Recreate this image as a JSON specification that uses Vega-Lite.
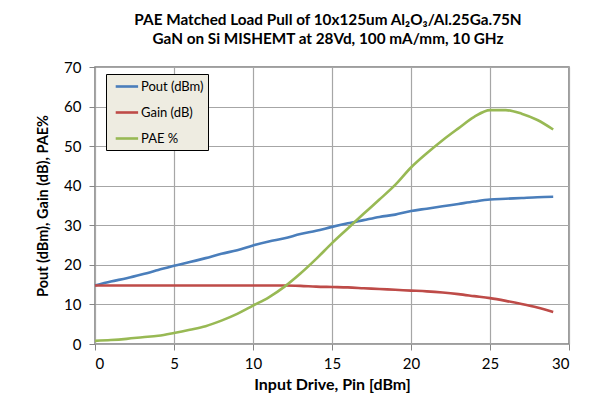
{
  "$schema": "https://vega.github.io/schema/vega-lite/v6.json",
  "width": 474,
  "height": 277,
  "autosize": "none",
  "padding": {"left": 95, "top": 67, "right": 21, "bottom": 54},
  "background": "white",
  "title": {
    "text": ["PAE Matched Load Pull of 10x125um Al₂O₃/Al.25Ga.75N", "GaN on Si MISHEMT at 28Vd, 100 mA/mm, 10 GHz"],
    "font": "Lato",
    "fontSize": 15.3,
    "fontWeight": "bold",
    "color": "#000000",
    "anchor": "middle",
    "dx": -4,
    "offset": 13,
    "lineHeight": 19
  },
  "config": {
    "font": "Lato",
    "view": {"stroke": "#7f7f7f", "strokeWidth": 1.5},
    "axis": {
      "gridColor": "#a6a6a6",
      "gridWidth": 1.2,
      "domain": false,
      "tickColor": "#868686",
      "tickSize": 6,
      "labelFont": "Lato",
      "labelFontSize": 15,
      "labelColor": "#000000",
      "titleFont": "Lato",
      "titleFontWeight": "bold",
      "titleColor": "#000000"
    }
  },
  "data": {
    "values": [
      {"pin": 0, "Pout (dBm)": 14.8, "Gain (dB)": 14.8, "PAE %": 0.8},
      {"pin": 1, "Pout (dBm)": 15.8, "Gain (dB)": 14.8, "PAE %": 1.0},
      {"pin": 2, "Pout (dBm)": 16.6, "Gain (dB)": 14.8, "PAE %": 1.3},
      {"pin": 3, "Pout (dBm)": 17.6, "Gain (dB)": 14.8, "PAE %": 1.7},
      {"pin": 4, "Pout (dBm)": 18.7, "Gain (dB)": 14.8, "PAE %": 2.1},
      {"pin": 5, "Pout (dBm)": 19.8, "Gain (dB)": 14.8, "PAE %": 2.8},
      {"pin": 6, "Pout (dBm)": 20.7, "Gain (dB)": 14.8, "PAE %": 3.6},
      {"pin": 7, "Pout (dBm)": 21.7, "Gain (dB)": 14.8, "PAE %": 4.5},
      {"pin": 8, "Pout (dBm)": 22.8, "Gain (dB)": 14.8, "PAE %": 5.9},
      {"pin": 9, "Pout (dBm)": 23.7, "Gain (dB)": 14.8, "PAE %": 7.6},
      {"pin": 10, "Pout (dBm)": 24.9, "Gain (dB)": 14.8, "PAE %": 9.7},
      {"pin": 11, "Pout (dBm)": 25.9, "Gain (dB)": 14.8, "PAE %": 11.8},
      {"pin": 12, "Pout (dBm)": 26.7, "Gain (dB)": 14.8, "PAE %": 14.5},
      {"pin": 13, "Pout (dBm)": 27.8, "Gain (dB)": 14.7, "PAE %": 17.8},
      {"pin": 14, "Pout (dBm)": 28.6, "Gain (dB)": 14.5, "PAE %": 21.5},
      {"pin": 15, "Pout (dBm)": 29.6, "Gain (dB)": 14.4, "PAE %": 25.5},
      {"pin": 16, "Pout (dBm)": 30.5, "Gain (dB)": 14.3, "PAE %": 29.2},
      {"pin": 17, "Pout (dBm)": 31.3, "Gain (dB)": 14.1, "PAE %": 32.9},
      {"pin": 18, "Pout (dBm)": 32.1, "Gain (dB)": 13.9, "PAE %": 36.5},
      {"pin": 19, "Pout (dBm)": 32.7, "Gain (dB)": 13.7, "PAE %": 40.2},
      {"pin": 20, "Pout (dBm)": 33.6, "Gain (dB)": 13.5, "PAE %": 44.6},
      {"pin": 21, "Pout (dBm)": 34.2, "Gain (dB)": 13.3, "PAE %": 48.2},
      {"pin": 22, "Pout (dBm)": 34.8, "Gain (dB)": 13.0, "PAE %": 51.5},
      {"pin": 23, "Pout (dBm)": 35.4, "Gain (dB)": 12.6, "PAE %": 54.5},
      {"pin": 24, "Pout (dBm)": 36.0, "Gain (dB)": 12.1, "PAE %": 57.4},
      {"pin": 25, "Pout (dBm)": 36.5, "Gain (dB)": 11.6, "PAE %": 59.1},
      {"pin": 26, "Pout (dBm)": 36.7, "Gain (dB)": 10.9, "PAE %": 59.1},
      {"pin": 27, "Pout (dBm)": 36.9, "Gain (dB)": 10.1, "PAE %": 58.2},
      {"pin": 28, "Pout (dBm)": 37.1, "Gain (dB)": 9.2, "PAE %": 56.6},
      {"pin": 29, "Pout (dBm)": 37.2, "Gain (dB)": 8.1, "PAE %": 54.2}
    ]
  },
  "transform": [
    {"fold": ["Pout (dBm)", "Gain (dB)", "PAE %"], "as": ["series", "value"]}
  ],
  "mark": {"type": "line", "strokeWidth": 2.6, "interpolate": "monotone"},
  "encoding": {
    "x": {
      "field": "pin",
      "type": "quantitative",
      "scale": {"domain": [0, 30], "nice": false},
      "axis": {"values": [0, 5, 10, 15, 20, 25, 30], "title": "Input Drive, Pin [dBm]", "titleFontSize": 16, "titlePadding": 5, "labelPadding": 6}
    },
    "y": {
      "field": "value",
      "type": "quantitative",
      "scale": {"domain": [0, 70], "nice": false},
      "axis": {"values": [0, 10, 20, 30, 40, 50, 60, 70], "title": "Pout (dBm), Gain (dB), PAE%", "titleFontSize": 14.5, "titlePadding": 13, "labelPadding": 8}
    },
    "color": {
      "field": "series",
      "type": "nominal",
      "scale": {"domain": ["Pout (dBm)", "Gain (dB)", "PAE %"], "range": ["#4a7ebb", "#be4b48", "#98b954"]},
      "legend": {
        "title": null,
        "orient": "none",
        "legendX": 11,
        "legendY": 7,
        "fillColor": "#eeece1",
        "strokeColor": "#000000",
        "padding": 4,
        "symbolType": "M-0.4,0H2.8",
        "symbolSize": 196,
        "symbolStrokeWidth": 2.6,
        "labelFont": "Lato",
        "labelFontSize": 13,
        "labelColor": "#000000",
        "labelOffset": 14,
        "rowPadding": 10
      }
    }
  }
}
